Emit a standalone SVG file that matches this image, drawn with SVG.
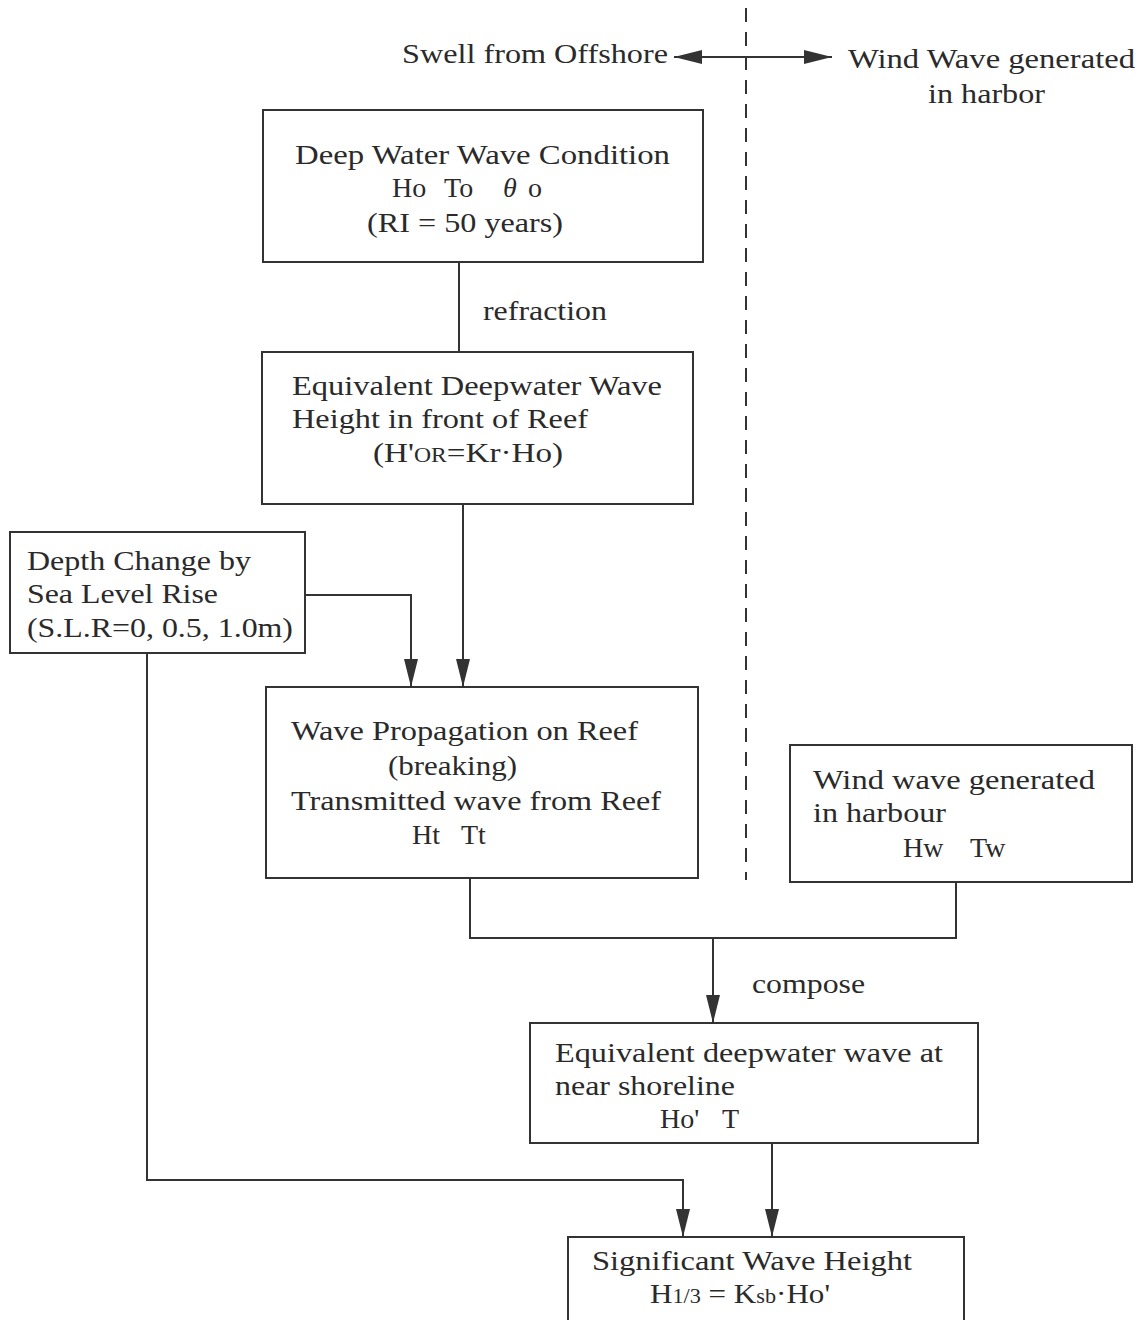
<svg xmlns="http://www.w3.org/2000/svg" width="1147" height="1320" viewBox="0 0 1147 1320">
<style>
text{font-family:"Liberation Serif","Times New Roman",serif;font-size:28px;fill:#2a2a2a}
.box{fill:#fff;stroke:#333;stroke-width:2}
.ln{fill:none;stroke:#333;stroke-width:2}
.sm{font-size:20px}
</style>
<defs>
<marker id="ah" markerUnits="userSpaceOnUse" markerWidth="28" markerHeight="14" refX="28" refY="7" viewBox="0 0 28 14" orient="auto-start-reverse">
<path d="M0,0 L28,7 L0,14 Z" fill="#333"/>
</marker>
</defs>
<rect width="1147" height="1320" fill="#fff"/>
<g id="connectors">
<line x1="746" y1="8" x2="746" y2="880" class="ln" stroke-dasharray="14,10" stroke-width="1.5"/>
<line x1="674" y1="57" x2="832" y2="57" class="ln" marker-start="url(#ah)" marker-end="url(#ah)"/>
<line x1="459" y1="262" x2="459" y2="352" class="ln"/>
<line x1="463" y1="504" x2="463" y2="687" class="ln" marker-end="url(#ah)"/>
<polyline points="305,595 411,595 411,687" class="ln" marker-end="url(#ah)"/>
<polyline points="147,653 147,1180 683,1180 683,1237" class="ln" marker-end="url(#ah)"/>
<polyline points="470,878 470,938 956,938 956,882" class="ln"/>
<line x1="713" y1="938" x2="713" y2="1023" class="ln" marker-end="url(#ah)"/>
<line x1="772" y1="1143" x2="772" y2="1237" class="ln" marker-end="url(#ah)"/>
</g>
<g id="labels">
<text x="402" y="63" textLength="266" lengthAdjust="spacingAndGlyphs">Swell from Offshore</text>
<text x="848" y="68" textLength="287" lengthAdjust="spacingAndGlyphs">Wind Wave generated</text>
<text x="928" y="103" textLength="117" lengthAdjust="spacingAndGlyphs">in harbor</text>
<text x="483" y="320" textLength="124" lengthAdjust="spacingAndGlyphs">refraction</text>
<text x="752" y="993" textLength="113" lengthAdjust="spacingAndGlyphs">compose</text>
</g>
<g id="n1">
<rect x="263" y="110" width="440" height="152" class="box"/>
<text x="295" y="164" textLength="375" lengthAdjust="spacingAndGlyphs">Deep Water Wave Condition</text>
<text y="197"><tspan x="392">Ho</tspan><tspan x="444">To</tspan><tspan x="503" font-style="italic">θ</tspan><tspan x="528">o</tspan></text>
<text x="367" y="232" textLength="196" lengthAdjust="spacingAndGlyphs">(RI = 50 years)</text>
</g>
<g id="n2">
<rect x="262" y="352" width="431" height="152" class="box"/>
<text x="292" y="395" textLength="370" lengthAdjust="spacingAndGlyphs">Equivalent Deepwater Wave</text>
<text x="292" y="428" textLength="296" lengthAdjust="spacingAndGlyphs">Height in front of Reef</text>
<text x="373" y="462" textLength="190" lengthAdjust="spacingAndGlyphs">(H'<tspan class="sm">OR</tspan>=Kr·Ho)</text>
</g>
<g id="n3">
<rect x="10" y="532" width="295" height="121" class="box"/>
<text x="27" y="570" textLength="224" lengthAdjust="spacingAndGlyphs">Depth Change by</text>
<text x="27" y="603" textLength="191" lengthAdjust="spacingAndGlyphs">Sea Level Rise</text>
<text x="27" y="637" textLength="266" lengthAdjust="spacingAndGlyphs">(S.L.R=0, 0.5, 1.0m)</text>
</g>
<g id="n4">
<rect x="266" y="687" width="432" height="191" class="box"/>
<text x="291" y="740" textLength="347" lengthAdjust="spacingAndGlyphs">Wave Propagation on Reef</text>
<text x="388" y="775" textLength="129" lengthAdjust="spacingAndGlyphs">(breaking)</text>
<text x="291" y="810" textLength="370" lengthAdjust="spacingAndGlyphs">Transmitted wave from Reef</text>
<text y="844"><tspan x="412">Ht</tspan><tspan x="461">Tt</tspan></text>
</g>
<g id="n5">
<rect x="790" y="745" width="342" height="137" class="box"/>
<text x="813" y="789" textLength="282" lengthAdjust="spacingAndGlyphs">Wind wave generated</text>
<text x="813" y="822" textLength="133" lengthAdjust="spacingAndGlyphs">in harbour</text>
<text y="857"><tspan x="903">Hw</tspan><tspan x="970">Tw</tspan></text>
</g>
<g id="n6">
<rect x="530" y="1023" width="448" height="120" class="box"/>
<text x="555" y="1062" textLength="388" lengthAdjust="spacingAndGlyphs">Equivalent deepwater wave at</text>
<text x="555" y="1095" textLength="180" lengthAdjust="spacingAndGlyphs">near shoreline</text>
<text y="1128"><tspan x="660">Ho'</tspan><tspan x="722">T</tspan></text>
</g>
<g id="n7">
<rect x="568" y="1237" width="396" height="100" class="box"/>
<text x="592" y="1270" textLength="320" lengthAdjust="spacingAndGlyphs">Significant Wave Height</text>
<text x="650" y="1303" textLength="180" lengthAdjust="spacingAndGlyphs">H<tspan class="sm">1/3</tspan> = K<tspan class="sm">sb</tspan>·Ho'</text>
</g>
</svg>
